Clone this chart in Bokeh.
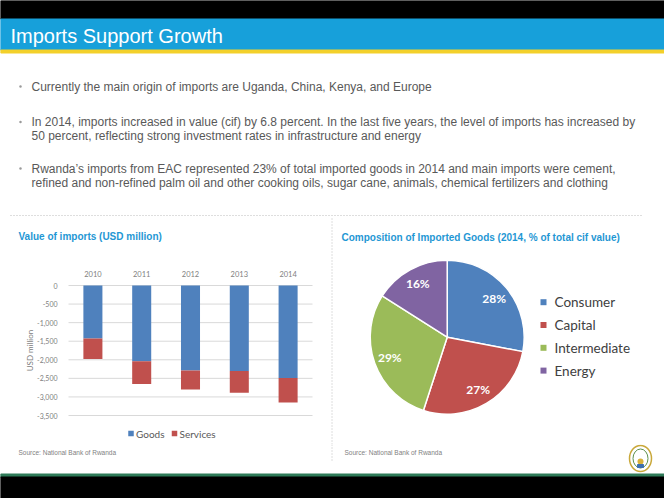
import math
from bokeh.plotting import figure
from bokeh.layouts import column, row
from bokeh.models import Range1d, ColumnDataSource
from bokeh.core.properties import value
from bokeh.embed import file_html
from bokeh.resources import INLINE

# ---------------- data ----------------
slide_title = "Imports Support Growth"
bullets = [
    ["Currently the main origin of imports are Uganda, China, Kenya, and Europe"],
    ["In 2014, imports increased in value (cif) by 6.8 percent. In the last five years, the level of imports has increased by",
     "50 percent, reflecting strong investment rates in infrastructure and energy"],
    ["Rwanda\u2019s imports from EAC represented 23% of total imported goods in 2014 and main imports were cement,",
     "refined and non-refined palm oil and other cooking oils, sugar cane, animals, chemical fertilizers and clothing"],
]

bar_title = "Value of imports (USD million)"
years = ["2010", "2011", "2012", "2013", "2014"]
goods = [-1430, -2040, -2290, -2300, -2490]
services = [-550, -610, -510, -590, -660]
y_ticks = [0, -500, -1000, -1500, -2000, -2500, -3000, -3500]
y_axis_label = "USD million"
bar_series = ["Goods", "Services"]

pie_title = "Composition of Imported Goods (2014, % of total cif value)"
pie_categories = ["Consumer", "Capital", "Intermediate", "Energy"]
pie_shares = [28, 27, 29, 16]

source_text = "Source: National Bank of Rwanda"

# ---------------- styles ----------------
BAR_COLORS = ["#4F81BD", "#C0504D"]
PIE_COLORS = ["#4F81BD", "#C0504D", "#9BBB59", "#8064A2"]
TITLE_BLUE = "#1F97D4"
BODY_GREY = "#595959"
AXIS_GREY = "#808080"
SANS = "Liberation Sans"
CAL = "Lato"
W, H = 664, 498
HDR_H, MID_H = 216, 228
BAR_W = 329


def blank(w, h, xr, yr):
    p = figure(width=w, height=h, x_range=xr, y_range=yr, x_axis_type=None,
               y_axis_type=None, toolbar_location=None, output_backend="svg",
               min_border=0)
    p.outline_line_color = None
    p.background_fill_color = "white"
    p.border_fill_color = "white"
    return p


# ---------------- header (page pixel coordinates) ----------------
hdr = blank(W, HDR_H, Range1d(0, W), Range1d(HDR_H, 0))
hdr.quad(left=[0], right=[W], top=[0], bottom=[18.5], color="black")
hdr.quad(left=[0], right=[W], top=[18.5], bottom=[49.5], color="#17A0DA")
hdr.quad(left=[0], right=[W], top=[49.5], bottom=[52.5], color="#F3D02A")
hdr.text(x=[10], y=[35.5], text=[slide_title], text_font=value(SANS),
         text_font_size="20px", text_color="white", text_baseline="middle")

first_line_y = [86, 121.5, 168]
line_gap = 14
bx, by, tx, ty, tt = [], [], [], [], []
for lines, y0 in zip(bullets, first_line_y):
    bx.append(20)
    by.append(y0)
    for i, ln in enumerate(lines):
        tx.append(31)
        ty.append(y0 + i * line_gap)
        tt.append(ln)
hdr.scatter(x=bx, y=by, size=2.5, color="#9A9A9A", line_width=0)
hdr.text(x=tx, y=ty, text=tt, text_font=value(SANS), text_font_size="12px",
         text_color=BODY_GREY, text_baseline="middle")
hdr.line(x=[10, 642], y=[215, 215], line_color="#BDBDBD", line_dash="1 2", line_width=1)

# ---------------- bar chart ----------------
# plot area of the chart on the page: x 68..312, value 0 at y 285, -3500 at y 415
PL, PR = 68, 312
n = len(years)
cw = (PR - PL) / n
k = (415 - 285) / 3500.0            # pixels per USD million
bx0 = (0 - PL) / cw - 0.5
bx1 = (BAR_W - PL) / cw - 0.5
by_top = (285 - HDR_H) / k
by_bot = -(HDR_H + MID_H - 285) / k
bar = blank(BAR_W, MID_H, Range1d(bx0, bx1), Range1d(by_bot, by_top))


def BX(px):
    return bx0 + px * (bx1 - bx0) / BAR_W


def BY(py):
    return by_top - (py - HDR_H) / k


xs = list(range(n))
bar.segment(x0=[-0.5] * len(y_ticks), x1=[n - 0.5] * len(y_ticks), y0=y_ticks,
            y1=y_ticks, line_color="#D9D9D9", line_width=1)
src = ColumnDataSource(dict(x=xs, Goods=goods, Services=services))
bar.vbar_stack(bar_series, x="x", width=0.39, color=BAR_COLORS, source=src,
               line_width=0)
bar.text(x=[-0.5] * len(y_ticks), y=y_ticks, text=[f"{t:,}" for t in y_ticks],
         x_offset=-11, text_align="right", text_baseline="middle",
         text_font=value(CAL), text_font_size="7px", text_color=AXIS_GREY)
bar.text(x=xs, y=[0] * n, text=years, y_offset=-12, text_align="center",
         text_baseline="middle", text_font=value(CAL), text_font_size="7.5px",
         text_color=AXIS_GREY)
bar.text(x=[-0.5], y=[(y_ticks[0] + y_ticks[-1]) / 2], text=[y_axis_label],
         x_offset=-39, angle=math.pi / 2, text_align="center",
         text_baseline="middle", text_font=value(CAL), text_font_size="8px",
         text_color=AXIS_GREY)
bar.text(x=[BX(18)], y=[BY(236)], text=[bar_title], text_font=value(SANS),
         text_font_style="bold", text_font_size="10px", text_color=TITLE_BLUE,
         text_baseline="middle")
# legend
bar.scatter(x=[BX(130.5), BX(174)], y=[BY(433)] * 2, marker="square", size=5.5,
            color=BAR_COLORS, line_width=0)
bar.text(x=[BX(135.5), BX(179)], y=[BY(433)] * 2, text=bar_series,
         text_font=value(CAL), text_font_size="10px", text_color=BODY_GREY,
         text_baseline="middle")

# ---------------- pie chart ----------------
CX, CY = 446.7, 336.7      # page position of the pie centre
R = 77


def X(px):
    return px - CX


def Y(py):
    return CY - py


pie = blank(W - BAR_W, MID_H, Range1d(X(BAR_W), X(W)), Range1d(Y(HDR_H + MID_H), Y(HDR_H)))
starts, ends, mids = [], [], []
cum = 0
for s in pie_shares:
    a0 = math.pi / 2 - 2 * math.pi * cum / 100
    a1 = math.pi / 2 - 2 * math.pi * (cum + s) / 100
    starts.append(a0)
    ends.append(a1)
    mids.append((a0 + a1) / 2)
    cum += s
psrc = ColumnDataSource(dict(start=starts, end=ends, color=PIE_COLORS,
                             lx=[61 * math.cos(m) for m in mids],
                             ly=[61 * math.sin(m) for m in mids],
                             lab=[f"{s}%" for s in pie_shares]))
pie.wedge(x=0, y=0, radius=R, start_angle="start", end_angle="end",
          direction="clock", fill_color="color", line_color="white",
          line_width=1.5, source=psrc)
pie.text(x="lx", y="ly", text="lab", source=psrc, text_font=value(CAL),
         text_font_style="bold", text_font_size="12px", text_color="white",
         text_align="center", text_baseline="middle")

row_y = [301.7, 324.5, 347.3, 370.1]
pie.scatter(x=[X(543)] * 4, y=[Y(v) for v in row_y], marker="square", size=6,
            color=PIE_COLORS, line_width=0)
pie.text(x=[X(554)] * 4, y=[Y(v) for v in row_y], text=pie_categories,
         text_font=value(CAL), text_font_size="13.5px", text_color="#404040",
         text_baseline="middle")
pie.text(x=[X(341)], y=[Y(237)], text=[pie_title], text_font=value(SANS),
         text_font_style="bold", text_font_size="10px", text_color=TITLE_BLUE,
         text_baseline="middle")
pie.line(x=[X(331.5), X(331.5)], y=[Y(218), Y(HDR_H + MID_H)], line_color="#BDBDBD",
         line_dash="1 2")

# ---------------- footer (page pixel coordinates) ----------------
FT = HDR_H + MID_H
ftr = blank(W, H - FT, Range1d(0, W), Range1d(H, FT))
ftr.text(x=[18, 344], y=[452, 452], text=[source_text, source_text],
         text_font=value(SANS), text_font_size="6.5px", text_color="#7F7F7F",
         text_baseline="middle")
ftr.line(x=[331.5, 331.5], y=[FT, 460], line_color="#BDBDBD", line_dash="1 2")
ftr.quad(left=[0], right=[W], top=[473.5], bottom=[476.5], color="#2F7B58")
ftr.quad(left=[0], right=[W], top=[476.5], bottom=[H], color="black")
# emblem
ftr.ellipse(x=[640], y=[458], width=22, height=26, fill_color="white",
            line_color="#C9A83A", line_width=1.5)
ftr.ellipse(x=[640], y=[458], width=15, height=19, fill_color=None,
            line_color="#5C8F4A", line_width=1)
ftr.ellipse(x=[640], y=[461], width=6, height=6, fill_color="#D9B23A",
            line_color=None)
ftr.quad(left=[637], right=[643], top=[464], bottom=[467], color="#3D6FB0")

layout = column(hdr, row(bar, pie, spacing=0), ftr, spacing=0)

with open("out.html", "w") as f:
    f.write(file_html(layout, INLINE))
